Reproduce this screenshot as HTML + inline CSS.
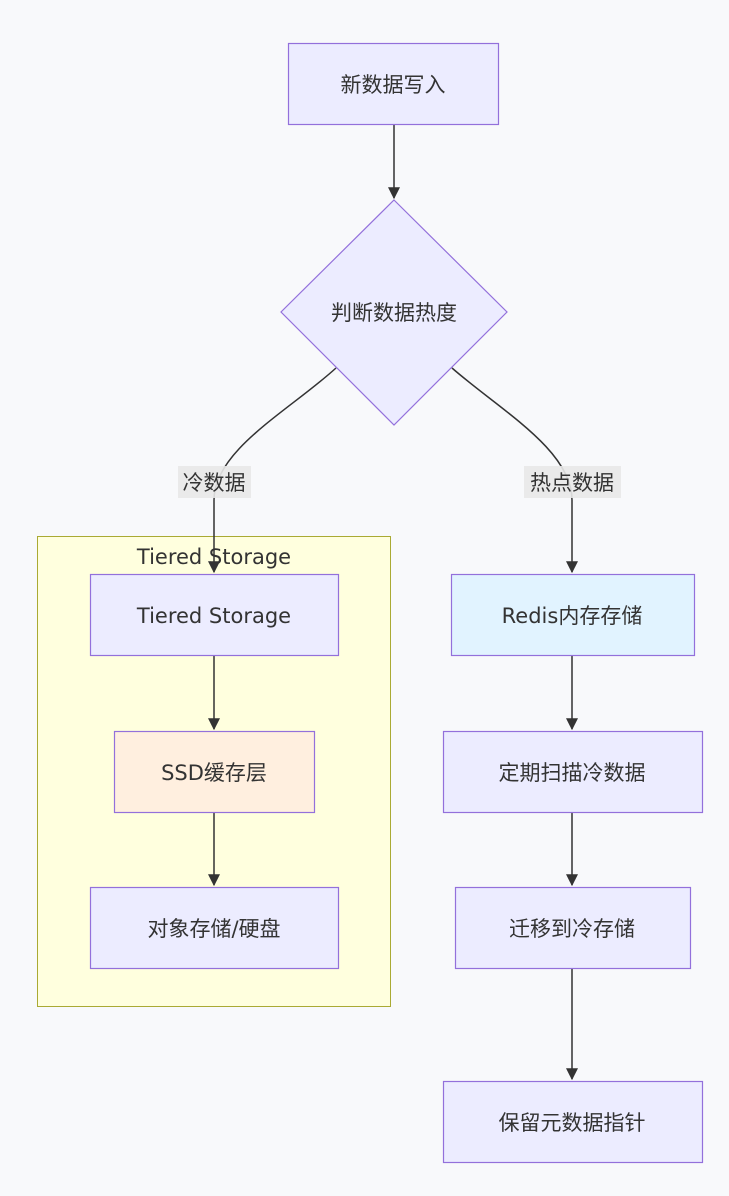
<!DOCTYPE html>
<html><head><meta charset="utf-8"><style>
html,body{margin:0;padding:0;background:#f8f9fb;}
svg{display:block;}
text{font-family:"DejaVu Sans","Noto Sans CJK SC",sans-serif;font-size:21px;fill:#333;}
</style></head><body>
<svg width="729" height="1196" viewBox="0 0 729 1196" xmlns="http://www.w3.org/2000/svg">
<defs><marker id="a" viewBox="0 0 10 10" refX="9" refY="5" markerWidth="8" markerHeight="8" orient="auto"><path d="M0,0L10,5L0,10z" fill="#333"/></marker></defs>
<rect width="729" height="1196" fill="#f8f9fb"/>
<rect x="37.5" y="536.5" width="353" height="470" fill="#ffffde" stroke="#aaaa33"/>
<text x="214" y="564" text-anchor="middle">Tiered Storage</text>
<g stroke="#333" stroke-width="1.5" fill="none">
<path d="M394,124V198" marker-end="url(#a)"/>
<path d="M336,368C290,410 214,450 214,500V572" marker-end="url(#a)"/>
<path d="M452,368C500,410 572,450 572,500V572" marker-end="url(#a)"/>
<path d="M214,655V729" marker-end="url(#a)"/>
<path d="M214,812V885" marker-end="url(#a)"/>
<path d="M572,655V729" marker-end="url(#a)"/>
<path d="M572,812V885" marker-end="url(#a)"/>
<path d="M572,968V1079" marker-end="url(#a)"/>
</g>
<rect x="178" y="466" width="73" height="32" fill="#e8e8e8" opacity="0.9"/>
<text x="214" y="490" text-anchor="middle">冷数据</text>
<rect x="524" y="466" width="97" height="32" fill="#e8e8e8" opacity="0.9"/>
<text x="572" y="490" text-anchor="middle">热点数据</text>
<g stroke="#9370db" stroke-width="1.2">
<rect x="288.5" y="43.5" width="210" height="81" fill="#ececff"/>
<path d="M394,200L507,312L394,425L281,312Z" fill="#ececff"/>
<rect x="90.5" y="574.5" width="248" height="81" fill="#ececff"/>
<rect x="114.5" y="731.5" width="200" height="81" fill="#ffefdf"/>
<rect x="90.5" y="887.5" width="248" height="81" fill="#ececff"/>
<rect x="451.5" y="574.5" width="243" height="81" fill="#e1f3ff"/>
<rect x="443.5" y="731.5" width="259" height="81" fill="#ececff"/>
<rect x="455.5" y="887.5" width="235" height="81" fill="#ececff"/>
<rect x="443.5" y="1081.5" width="259" height="81" fill="#ececff"/>
</g>
<g text-anchor="middle">
<text x="393" y="92">新数据写入</text>
<text x="394" y="320">判断数据热度</text>
<text x="214" y="623">Tiered Storage</text>
<text x="214" y="780">SSD缓存层</text>
<text x="214" y="936">对象存储/硬盘</text>
<text x="572" y="623">Redis内存存储</text>
<text x="572" y="780">定期扫描冷数据</text>
<text x="572" y="936">迁移到冷存储</text>
<text x="572" y="1130">保留元数据指针</text>
</g>
</svg>
</body></html>
